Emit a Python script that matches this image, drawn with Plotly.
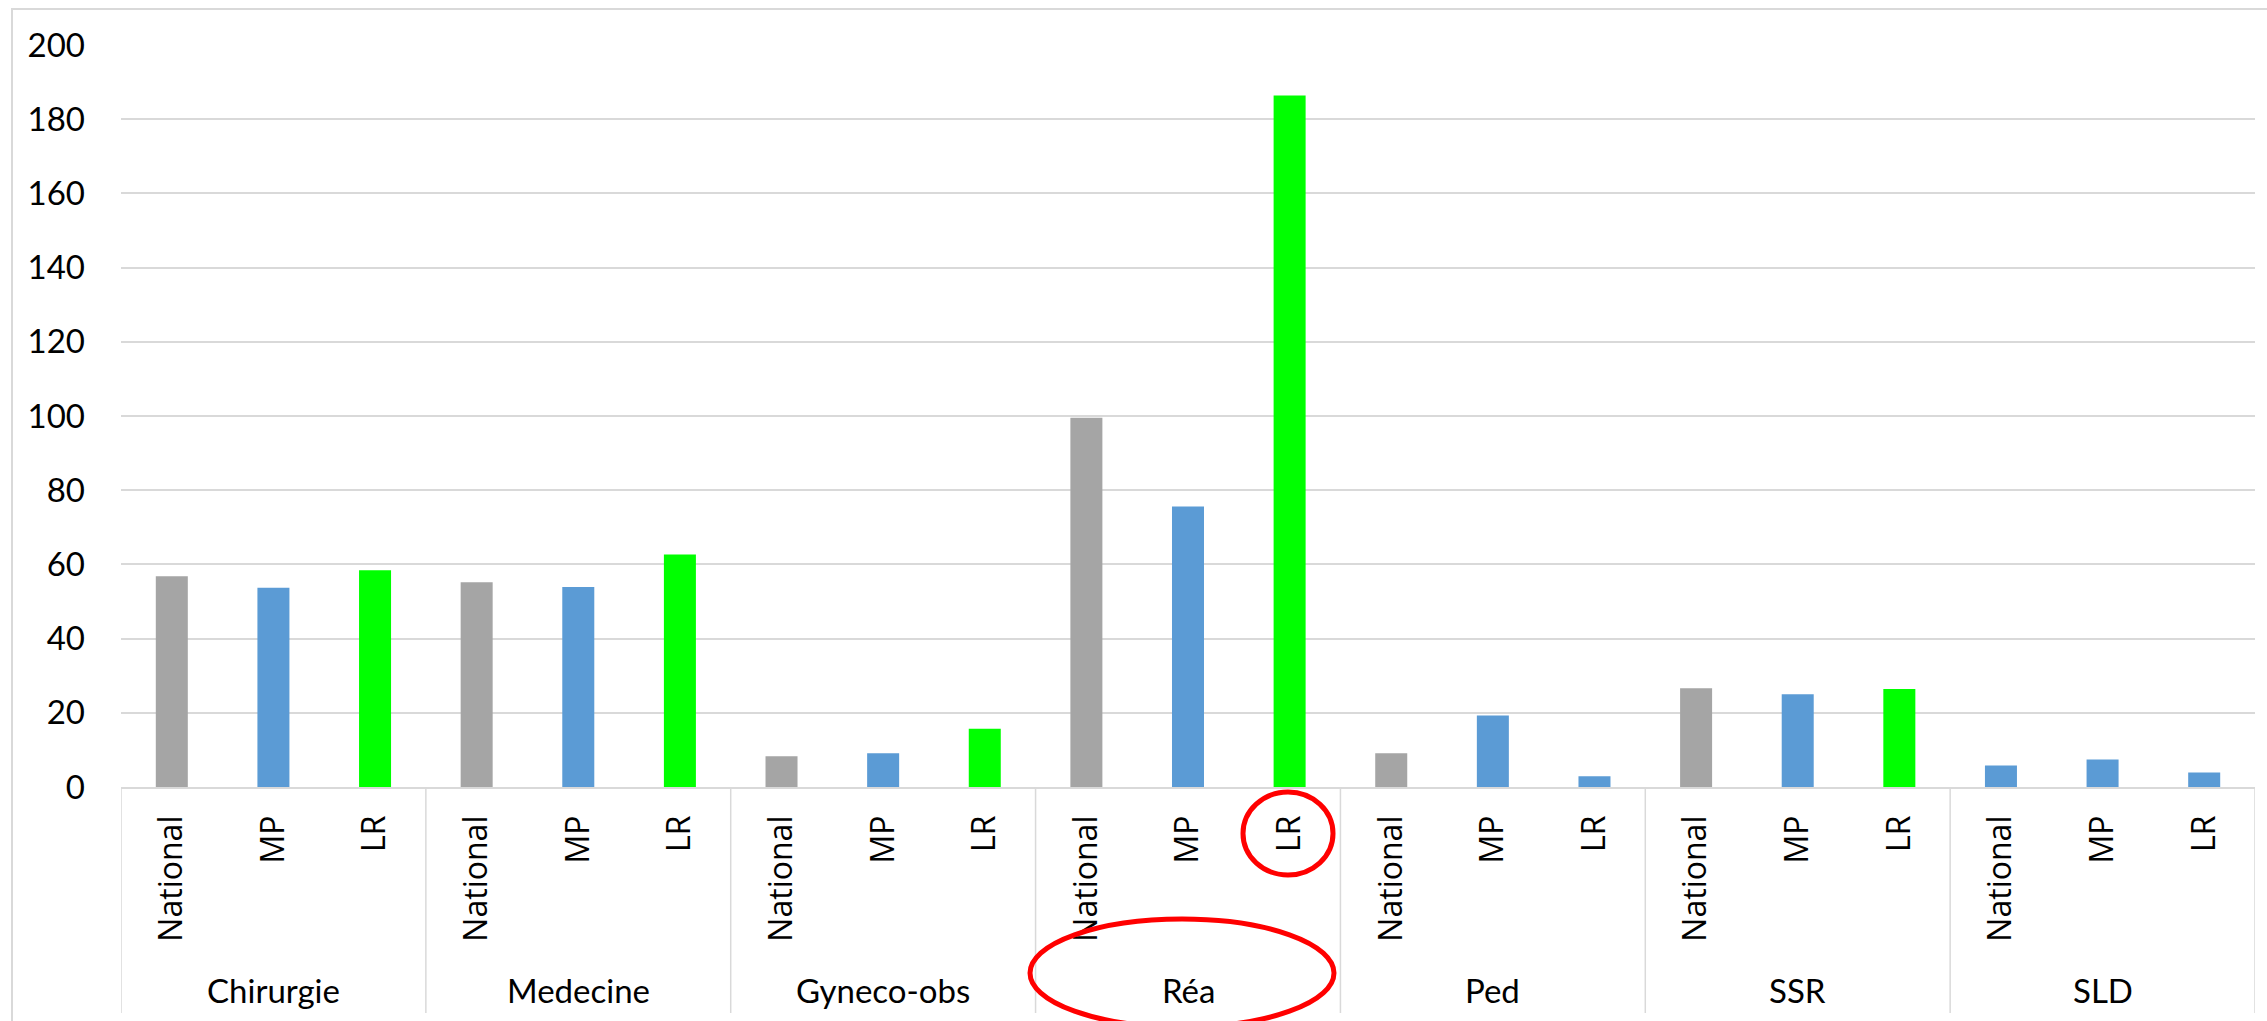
import plotly.graph_objects as go

# ---- data ----
groups = ["Chirurgie", "Medecine", "Gyneco-obs", "Réa", "Ped", "SSR", "SLD"]
series = ["National", "MP", "LR"]
national = [56.8, 55.2, 8.3, 99.5, 9.1, 26.6, 5.8]
mp = [53.7, 53.9, 9.1, 75.6, 19.3, 25.0, 7.4]
lr = [58.4, 62.7, 15.7, 186.4, 2.9, 26.4, 3.9]
y_ticks = [0, 20, 40, 60, 80, 100, 120, 140, 160, 180, 200]

# ---- styles ----
GRAY, BLUE, GREEN = "#A5A5A5", "#5B9BD5", "#00FF00"
series_colors = {"National": GRAY, "MP": BLUE, "LR": GREEN}
# bars drawn in blue in the original regardless of series
blue_override = {("Ped", "LR"), ("SLD", "National"), ("SLD", "LR")}

W, H = 2267, 1021
ML, MR, MT, MB = 121, 12, 45, 234
PW, PH = W - ML - MR, H - MT - MB


def px(x):
    return (x - ML) / PW


def py(y):
    return (H - MB - y) / PH


keys, vals, cols, ticktext = [], [], [], []
values = {"National": national, "MP": mp, "LR": lr}
for gi, g in enumerate(groups):
    for s in series:
        keys.append(f"{g} - {s}")
        vals.append(values[s][gi])
        ticktext.append(s)
        cols.append(BLUE if (g, s) in blue_override else series_colors[s])

fig = go.Figure(
    go.Bar(x=keys, y=vals, marker=dict(color=cols, line=dict(width=0)),
           width=0.315, showlegend=False, hoverinfo="x+y")
)

LINE = "#D9D9D9"
shapes = []
n = len(keys)
bottom_box = py(1013)
for k in range(len(groups) + 1):
    shapes.append(dict(type="line", xref="x", yref="paper",
                       x0=-0.5 + 3 * k, x1=-0.5 + 3 * k, y0=0, y1=bottom_box,
                       line=dict(color=LINE, width=1.5)))

# outer chart border (top / left visible)
shapes.append(dict(type="rect", xref="paper", yref="paper",
                   x0=px(12), x1=px(2300), y0=py(1060), y1=py(9),
                   line=dict(color=LINE, width=2), layer="below"))

# red hand-drawn ellipses
shapes.append(dict(type="circle", xref="paper", yref="paper",
                   x0=px(1243), x1=px(1333), y0=py(875), y1=py(792),
                   line=dict(color="#FF0000", width=5)))
shapes.append(dict(type="circle", xref="paper", yref="paper",
                   x0=px(1030), x1=px(1334), y0=py(1027), y1=py(919),
                   line=dict(color="#FF0000", width=5)))

annotations = []
for gi, g in enumerate(groups):
    annotations.append(dict(text=g, xref="x", yref="paper", x=3 * gi + 1, y=py(990),
                            showarrow=False, xanchor="center", yanchor="middle",
                            font=dict(family="Lato, Carlito, sans-serif", size=33, color="#000000")))

fig.update_layout(
    width=W, height=H, autosize=False,
    margin=dict(l=ML, r=MR, t=MT, b=MB, pad=0),
    paper_bgcolor="white", plot_bgcolor="white",
    bargap=0.685,
    shapes=shapes, annotations=annotations,
    xaxis=dict(type="category", tickmode="array", tickvals=keys, ticktext=ticktext,
               tickangle=-90, showgrid=False, showline=True, linecolor=LINE, linewidth=1.5,
               ticks="", ticklabelstandoff=14, range=[-0.5, n - 0.5],
               tickfont=dict(family="Open Sans, sans-serif", size=32, color="#000000")),
    yaxis=dict(range=[0, 200], tickmode="array", tickvals=y_ticks,
               showgrid=True, gridcolor=LINE, gridwidth=1.5, zeroline=False, showline=False,
               ticks="", ticklabelstandoff=35,
               tickfont=dict(family="Lato, Carlito, sans-serif", size=33, color="#000000")),
)

fig.write_html("out.html", config={"displayModeBar": False},
               post_script="document.body.style.margin='0';document.body.style.overflow='hidden';")
